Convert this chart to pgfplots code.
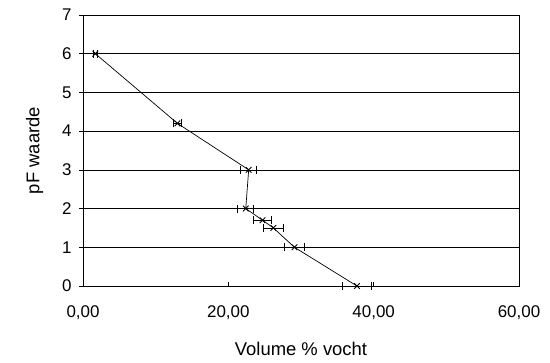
\documentclass[border=0pt]{standalone}
\usepackage{fontspec}
\setmainfont{Liberation Sans}
\usepackage{pgfplots}
\pgfplotsset{compat=1.18}
\usetikzlibrary{calc}
\begin{document}
\begin{tikzpicture}
\begin{axis}[
  scale only axis,
  width=436bp, height=271bp,
  xmin=0, xmax=60, ymin=0, ymax=7,
  xtick={0,20,40,60}, ytick={0,1,2,3,4,5,6,7},
  xtick pos=bottom, ytick pos=left,
  tick align=inside,
  major tick length=4bp,
  y tick style={xshift=-4bp, black, line width=0.6pt},
  x tick style={black, line width=0.6pt},
  ymajorgrids,
  grid style={black, line width=0.6pt},
  axis line style={black, line width=0.8pt},
  font=\fontsize{17}{20}\selectfont,
  /pgf/number format/assume math mode=true,
  xticklabel style={/pgf/number format/.cd, fixed, fixed zerofill, precision=2, use comma, /tikz/.cd, yshift=-16bp},
  yticklabel style={xshift=-8bp},
  xlabel={Volume \% vocht},
  ylabel={pF waarde},
  label style={font=\fontsize{18.5}{21}\selectfont},
  xlabel style={yshift=-16bp},
  ylabel style={yshift=12bp},
  clip=false,
]
\addplot[black, line width=0.7pt, mark=x, mark size=4bp,
  mark options={line width=0.9pt},
  error bars/.cd, x dir=both, x explicit,
  error bar style={black, line width=0.7pt},
  error mark=|,
  error mark options={black, mark size=4bp, line width=0.7pt}]
  coordinates {
  (1.7,6) +- (0.3,0)
  (13.0,4.2) +- (0.5,0)
  (22.8,3) +- (1.1,0)
  (22.4,2) +- (1.1,0)
  (24.7,1.7) +- (1.2,0)
  (26.2,1.5) +- (1.4,0)
  (29.1,1) +- (1.4,0)
  (37.7,0) +- (2.0,0)
  };
\coordinate (bl) at (rel axis cs:0,0);
\coordinate (tr) at (rel axis cs:1,1);
\end{axis}
\pgfresetboundingbox
\path ($(bl)+(-83bp,-77bp)$) rectangle ($(tr)+(31bp,15bp)$);
\end{tikzpicture}
\end{document}
